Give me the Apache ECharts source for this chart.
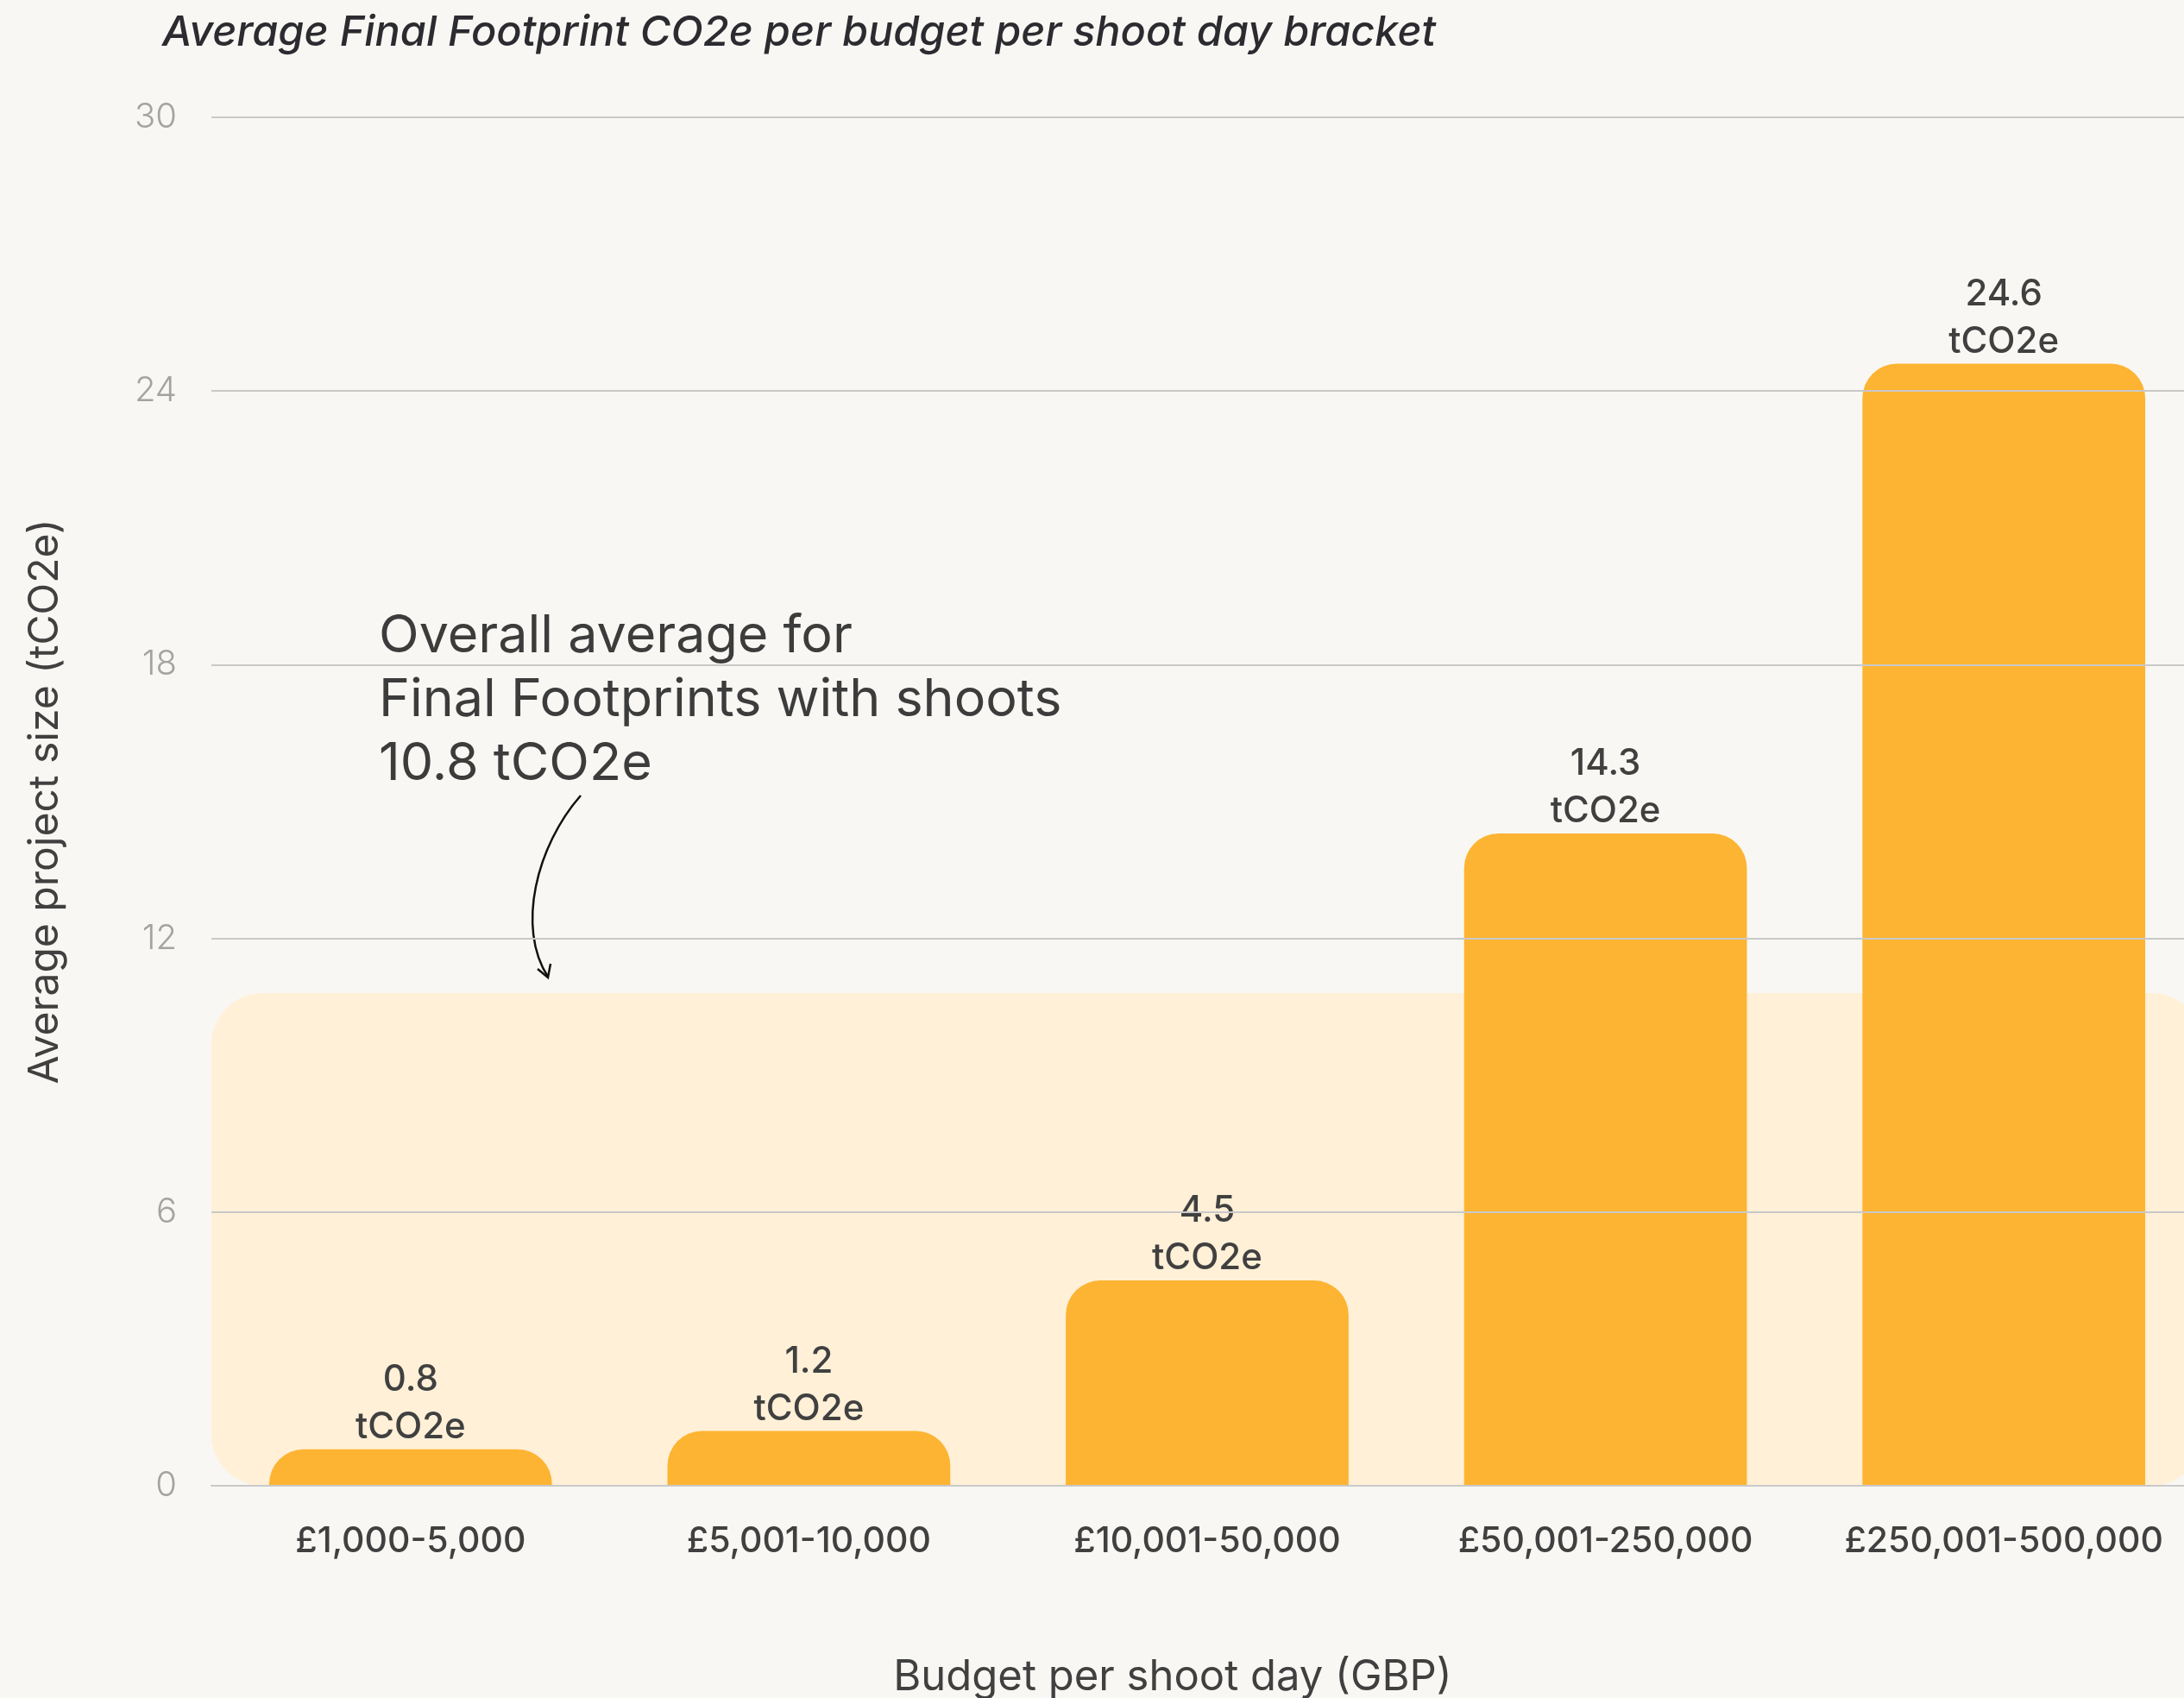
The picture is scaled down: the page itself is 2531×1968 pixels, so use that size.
<!DOCTYPE html>
<html lang="en">
<head>
<meta charset="UTF-8">
<title>Average Final Footprint CO2e per budget per shoot day bracket</title>
<script src="https://cdn.jsdelivr.net/npm/echarts@6/dist/echarts.min.js"></script>
<style>
  html, body { margin: 0; padding: 0; background: #f8f7f3; }
  #main { width: 2531px; height: 1968px; }
</style>
</head>
<body>
<div id="main"></div>
<script type="text/javascript">
    // data
    var categories = ['£1,000-5,000', '£5,001-10,000', '£10,001-50,000', '£50,001-250,000', '£250,001-500,000'];
    var footprint = [0.8, 1.2, 4.5, 14.3, 24.6];
    var overallAverage = 10.8;
    var yTicks = [0, 30, 6]; // min, max, interval

    var fontName = 'Inter, "Noto Sans", sans-serif';
    var darkText = '#404040';

    var myChart = echarts.init(document.getElementById('main'));

    var option = {
        backgroundColor: '#f8f7f3',
        textStyle: { fontFamily: fontName },
        title: {
            text: 'Average Final Footprint CO2e per budget per shoot day bracket',
            left: 183,
            top: 9,
            textStyle: {
                fontFamily: fontName,
                fontStyle: 'italic',
                fontWeight: 500,
                fontSize: 48.6,
                color: '#2b2b30'
            }
        },
        grid: {
            left: 245,
            right: -22,
            top: 136,
            bottom: 246,
            containLabel: false,
            outerBoundsMode: 'none'
        },
        xAxis: {
            type: 'category',
            data: categories,
            name: 'Budget per shoot day (GBP)',
            nameLocation: 'middle',
            nameGap: 198,
            nameTextStyle: {
                fontSize: 49,
                color: darkText,
                padding: [0, 80, 0, 0]
            },
            axisLine: { lineStyle: { color: '#c9c9c9', width: 2 } },
            axisTick: { show: false },
            axisLabel: {
                interval: 0,
                margin: 44,
                fontSize: 41,
                fontWeight: 500,
                color: darkText
            },
            z: 10
        },
        yAxis: {
            type: 'value',
            min: yTicks[0],
            max: yTicks[1],
            interval: yTicks[2],
            name: 'Average project size (tCO2e)',
            nameLocation: 'middle',
            nameGap: 168,
            nameTextStyle: {
                fontSize: 48,
                color: darkText
            },
            axisLine: { show: false },
            axisTick: { show: false },
            axisLabel: {
                margin: 40,
                fontSize: 40,
                fontWeight: 300,
                color: '#a3a3a3'
            },
            splitLine: { lineStyle: { color: '#c9c9c9', width: 2 } },
            z: 10
        },
        series: [
            {
                // light band showing overall average
                type: 'custom',
                z: 1,
                silent: true,
                data: [[0, overallAverage]],
                renderItem: function (params, api) {
                    var cs = params.coordSys;
                    var top = api.coord([0, api.value(1)])[1];
                    var bottom = api.coord([0, 0])[1];
                    return {
                        type: 'rect',
                        shape: { x: cs.x, y: top, width: cs.width, height: bottom - top, r: 60 },
                        style: { fill: '#fff0d7' }
                    };
                }
            },
            {
                type: 'bar',
                z: 2,
                data: footprint,
                barWidth: '71%',
                itemStyle: {
                    color: '#fdb432',
                    borderRadius: [40, 40, 0, 0]
                },
                label: {
                    show: true,
                    position: 'top',
                    distance: -2,
                    formatter: '{c}\ntCO2e',
                    fontSize: 42,
                    lineHeight: 55,
                    fontWeight: 500,
                    color: darkText
                }
            }
        ],
        graphic: [
            {
                type: 'text',
                left: 439,
                top: 701,
                style: {
                    text: 'Overall average for\nFinal Footprints with shoots\n10.8 tCO2e',
                    fontFamily: fontName,
                    fontSize: 61,
                    lineHeight: 74,
                    fill: '#3c3c3c'
                }
            },
            {
                type: 'bezierCurve',
                shape: { x1: 673, y1: 922, cpx1: 622, cpy1: 980, cpx2: 598, cpy2: 1075, x2: 635, y2: 1132 },
                style: { stroke: '#111', lineWidth: 2.5, fill: null }
            },
            {
                type: 'polyline',
                shape: { points: [[623, 1123], [635, 1133], [638, 1117]] },
                style: { stroke: '#111', lineWidth: 2.5, fill: null }
            }
        ]
    };

    myChart.setOption(option);
</script>
</body>
</html>
